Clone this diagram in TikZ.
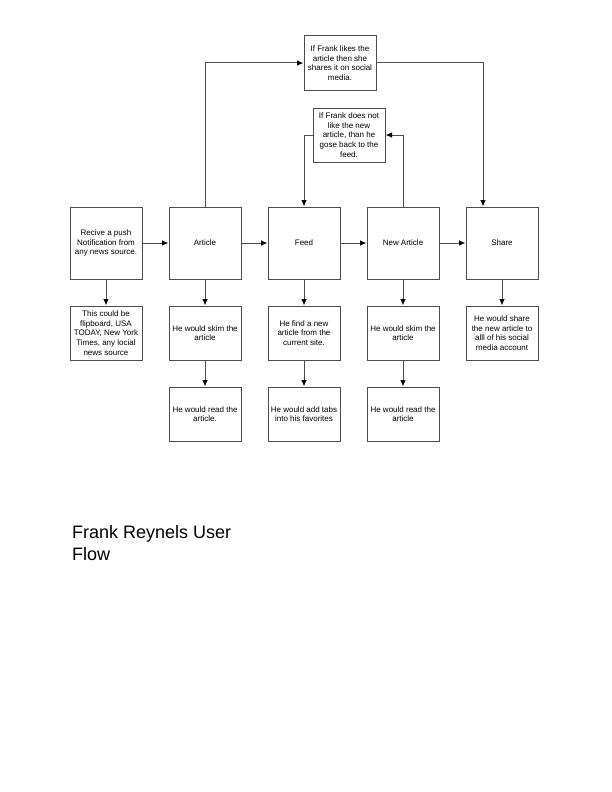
\documentclass[tikz,border=0pt]{standalone}
\usepackage{fontspec}
\setmainfont{Liberation Sans}
\usetikzlibrary{arrows.meta}

\begin{document}
\begin{tikzpicture}
  [
    x = 1pt, y = -1pt,
    box/.style = {draw = black!70, line width = 1pt, minimum width = 72pt,
        inner sep = 1pt, align = center, font = \fontsize{8}{9.7}\selectfont},
    big/.style = {box, minimum height = 72pt},
    small/.style = {box, minimum height = 54pt},
    flow/.style = {draw = black!70, line width = 1pt,
        -{Latex[length = 6.5pt, width = 5.5pt, black]}},
  ]

  \useasboundingbox (0,0) rectangle (612,792);

  % main row
  \node [big] (push) at (106,243) {Recive a push\\Notification from\\any news source.};
  \node [big] (article) at (205,243) {Article};
  \node [big] (feed) at (304,243) {Feed};
  \node [big] (newart) at (403,243) {New Article};
  \node [big] (share) at (502,243) {Share};

  % decisions
  \node [small] (likes) at (340,63) {If Frank likes the\\article then she\\shares it on social\\media.};
  \node [small] (dislikes) at (349,135) {If Frank does not\\like the new\\article, than he\\gose back to the\\feed.};

  % second row
  \node [small] (source) at (106,333) {This could be\\flipboard, USA\\TODAY, New York\\Times, any locial\\news source};
  \node [small] (skim) at (205,333) {He would skim the\\article};
  \node [small] (find) at (304,333) {He find a new\\article from the\\current site.};
  \node [small] (skimnew) at (403,333) {He would skim the\\article};
  \node [small] (sharenew) at (502,333) {He would share\\the new article to\\alll of his social\\media account};

  % third row
  \node [small] (read) at (205,414) {He would read the\\article.};
  \node [small] (tabs) at (304,414) {He would add tabs\\into his favorites};
  \node [small] (readnew) at (403,414) {He would read the\\article};

  \node [anchor = north west, align = left, inner sep = 0pt,
    font = \fontsize{18}{22}\selectfont] (title) at (72,525) {Frank Reynels User\\Flow};

  \draw [flow] (push) -- (article);
  \draw [flow] (article) -- (feed);
  \draw [flow] (feed) -- (newart);
  \draw [flow] (newart) -- (share);

  \draw [flow] (article.north) |- (likes.west);
  \draw [flow] (likes.east) -| ([xshift=-19pt]share.north);
  \draw [flow] (newart.north) |- (dislikes.east);
  \draw [flow] (dislikes.west) -| (feed.north);

  \foreach \a/\b in {push/source, article/skim, skim/read, feed/find,
      find/tabs, newart/skimnew, skimnew/readnew, share/sharenew}{
      \draw [flow] (\a) -- (\b);
    }

\end{tikzpicture}
\end{document}
